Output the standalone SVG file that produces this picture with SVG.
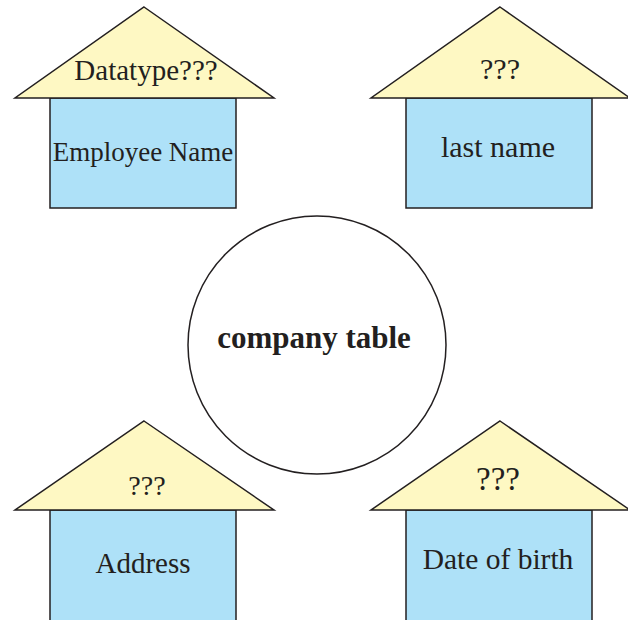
<svg xmlns="http://www.w3.org/2000/svg" width="628" height="620" viewBox="0 0 628 620">
<style>
.roof{fill:#fef8c3;stroke:#231f20;stroke-width:1.5;stroke-linejoin:miter}
.body{fill:#aee1f8;stroke:#231f20;stroke-width:1.5}
.t{font-family:"Liberation Serif","Times New Roman",serif;fill:#231f20;text-anchor:middle}
.hub{fill:#ffffff;stroke:#231f20;stroke-width:1.5}
</style>
<rect width="628" height="620" fill="#ffffff"/>
<g id="connectors"></g>
<g id="hub">
<circle class="hub" cx="317" cy="345" r="129"/>
<text class="t" x="314" y="348" font-size="31" font-weight="bold">company table</text>
</g>
<g id="house-employee-name">
<rect class="body" x="50" y="98" width="186" height="110"/>
<polygon class="roof" points="144,7 274,98 15,98"/>
<text class="t" x="146" y="80" font-size="29">Datatype???</text>
<text class="t" x="143" y="161" font-size="27">Employee Name</text>
</g>
<g id="house-last-name">
<rect class="body" x="406" y="98" width="186" height="110"/>
<polygon class="roof" points="500,7 630,98 371,98"/>
<text class="t" x="500" y="79" font-size="30">???</text>
<text class="t" x="498" y="157" font-size="30">last name</text>
</g>
<g id="house-address">
<rect class="body" x="50" y="510" width="186" height="120"/>
<polygon class="roof" points="144,421 274,510 15,510"/>
<text class="t" x="147" y="495" font-size="28">???</text>
<text class="t" x="143" y="573" font-size="29">Address</text>
</g>
<g id="house-date-of-birth">
<rect class="body" x="406" y="510" width="186" height="120"/>
<polygon class="roof" points="500,421 630,510 371,510"/>
<text class="t" x="498" y="490" font-size="33">???</text>
<text class="t" x="498" y="569" font-size="29.5">Date of birth</text>
</g>
</svg>
